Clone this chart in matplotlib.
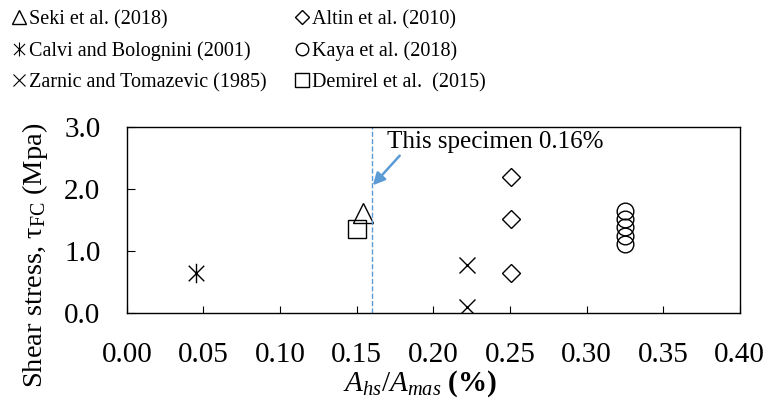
import matplotlib
matplotlib.use("Agg")
import matplotlib.pyplot as plt
from matplotlib.lines import Line2D
from matplotlib.path import Path

plt.rcParams["font.family"] = ["Liberation Serif", "DejaVu Serif"]
plt.rcParams["mathtext.fontset"] = "custom"
plt.rcParams["mathtext.rm"] = "Liberation Serif"
plt.rcParams["mathtext.it"] = "Liberation Serif:italic"
plt.rcParams["mathtext.bf"] = "Liberation Serif:bold"

# datos (x = Ahs/Amas en %, y = tension de corte en MPa)
seki_x, seki_y = [0.154], [1.62]
calvi_x, calvi_y = [0.045], [0.65]
zarnic_x, zarnic_y = [0.222, 0.222], [0.78, 0.10]
altin_x, altin_y = [0.251, 0.251, 0.251], [2.20, 1.52, 0.65]
kaya_x = [0.325, 0.325, 0.325, 0.325, 0.325]
kaya_y = [1.645, 1.52, 1.38, 1.24, 1.11]
demirel_x, demirel_y = [0.150], [1.35]
this_ratio = 0.16

x_ticks = [0.00, 0.05, 0.10, 0.15, 0.20, 0.25, 0.30, 0.35, 0.40]
y_ticks = [0.0, 1.0, 2.0, 3.0]

# marcador "x con barra vertical" (Calvi y Bolognini)
XBAR = Path([(-0.8, -0.8), (0.8, 0.8), (-0.8, 0.8), (0.8, -0.8),
             (0, -1), (0, 1)],
            [Path.MOVETO, Path.LINETO, Path.MOVETO, Path.LINETO,
             Path.MOVETO, Path.LINETO])

fig = plt.figure(figsize=(7.69, 4.03), dpi=100)
ax = fig.add_axes([0.165, 0.2233, 0.797, 0.4616])

kw = dict(linestyle="none", markerfacecolor="none", markeredgecolor="black",
          markeredgewidth=1.0)
ax.plot(seki_x, seki_y, marker="^", markersize=14, **kw)
ax.plot(calvi_x, calvi_y, marker=XBAR, markersize=14, color="black",
        linestyle="none", markeredgewidth=1.0)
ax.plot(zarnic_x, zarnic_y, marker="x", markersize=11, color="black",
        linestyle="none", markeredgewidth=1.0)
ax.plot(altin_x, altin_y, marker="D", markersize=9.5, **kw)
ax.plot(kaya_x, kaya_y, marker="o", markersize=12, **kw)
ax.plot(demirel_x, demirel_y, marker="s", markersize=12.5, **kw)

ax.axvline(this_ratio, color="#5B9BD5", linestyle="--", linewidth=1.0)
ax.annotate("This specimen 0.16%", xy=(0.1605, 2.06), xytext=(0.1697, 2.76),
            fontsize=18, va="center", ha="left",
            arrowprops=dict(arrowstyle="-|>", color="#5B9BD5", lw=1.8,
                            shrinkA=0, shrinkB=0,
                            relpos=(0.08, 0.1)))

ax.set_xlim(0, 0.4)
ax.set_ylim(0, 3.0)
ax.set_xticks(x_ticks)
ax.set_xticklabels([f"{v:.2f}" for v in x_ticks])
ax.set_yticks(y_ticks)
ax.set_yticklabels([f"{v:.1f}" for v in y_ticks])
ax.tick_params(axis="x", direction="in", length=5, pad=21, labelsize=21)
ax.tick_params(axis="y", direction="in", length=6, pad=19, labelsize=21)
for s in ax.spines.values():
    s.set_linewidth(1.0)

ax.set_xlabel(r"$A_{hs}/A_{mas}$ $\mathbf{(\%)}$", fontsize=21)
ax.xaxis.set_label_coords(0.478, -0.30)
ax.set_ylabel(r"Shear stress, $\mathrm{\tau}_{\mathrm{FC}}$ (Mpa)", fontsize=20.5)
ax.yaxis.set_label_coords(-0.125, 0.31)

# leyenda arriba, dos columnas
handles = [
    Line2D([], [], marker="^", markersize=10, **kw),
    Line2D([], [], marker=XBAR, markersize=10, color="black",
           linestyle="none", markeredgewidth=0.8),
    Line2D([], [], marker="x", markersize=8, color="black",
           linestyle="none", markeredgewidth=0.8),
    Line2D([], [], marker="D", markersize=7, **kw),
    Line2D([], [], marker="o", markersize=9, **kw),
    Line2D([], [], marker="s", markersize=10, **kw),
]
labels = ["Seki et al. (2018)", "Calvi and Bolognini (2001)",
          "Zarnic and Tomazevic (1985)", "Altin et al. (2010)",
          "Kaya et al. (2018)", "Demirel et al.  (2015)"]
fig.legend(handles, labels, ncol=2, frameon=False, fontsize=14.5,
           loc="upper left", bbox_to_anchor=(0.0, 1.005),
           handlelength=0.7, handletextpad=0.15, columnspacing=1.4,
           labelspacing=0.6, borderaxespad=0.2)

fig.savefig("out.png", dpi=100, facecolor="white")
